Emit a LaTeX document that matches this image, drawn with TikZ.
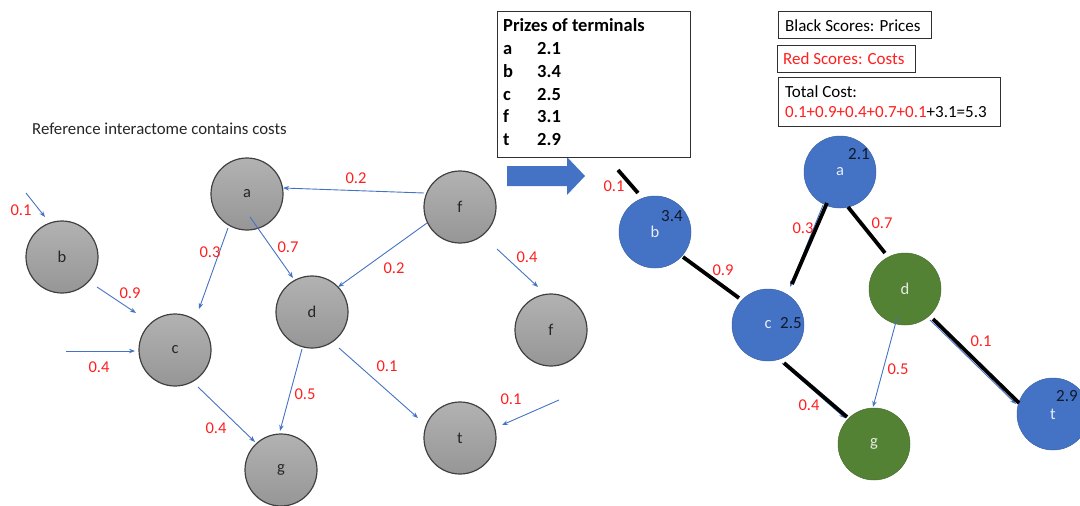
\documentclass[tikz,border=0pt]{standalone}
\usepackage{fontspec}
\setmainfont{Carlito}
\usetikzlibrary{arrows.meta}
\definecolor{gtop}{HTML}{B2B2B2}
\definecolor{gbot}{HTML}{969696}
\definecolor{edgeblue}{HTML}{4472C4}
\definecolor{costred}{HTML}{FF1F1F}
\definecolor{nodeblue}{HTML}{4472C4}
\definecolor{nodegreen}{HTML}{548235}
\definecolor{scoreink}{HTML}{101A2C}
\definecolor{boxline}{HTML}{303030}
\begin{document}
\begin{tikzpicture}[x=1pt,y=-1pt,
  graynode/.style={circle, minimum size=72pt, inner sep=0pt, draw=black!75, line width=1.2pt,
    top color=gtop, bottom color=gbot, font=\fontsize{16.5}{19}\selectfont, text=black!85},
  bluenode/.style={circle, minimum size=72pt, inner sep=0pt, fill=nodeblue, draw=nodeblue!85!black,
    line width=0.5pt, text=white!88!nodeblue, font=\fontsize{16.5}{19}\selectfont},
  greennode/.style={bluenode, fill=nodegreen, draw=nodegreen!85!black, text=white!85!nodegreen},
  cost/.style={text=costred, font=\fontsize{16.5}{19}\selectfont, inner sep=0pt},
  score/.style={text=scoreink, font=\fontsize{17}{19}\selectfont, inner sep=0pt},
  thinarrow/.style={draw=edgeblue, line width=0.9pt, -{Stealth[length=6pt,width=4.5pt]}},
  solution/.style={draw=black, line width=3.8pt},
  infobox/.style={draw=boxline, line width=1.1pt, anchor=north west, inner sep=0pt},
  boxtext/.style={anchor=base west, inner sep=0pt, font=\fontsize{17}{20}\selectfont},
  prizetext/.style={anchor=base west, inner sep=0pt, font=\fontsize{18.5}{22}\selectfont\bfseries}
]
\useasboundingbox (0,0) rectangle (1080,506);

% ---------------- left: reference interactome ----------------
\node[boxtext, font=\fontsize{16.8}{20}\selectfont, text=black!85] (title) at (32,134) {Reference interactome contains costs};

\node[graynode] (a) at (247,194) {a};
\node[graynode] (b) at (62,257) {b};
\node[graynode] (c) at (175,350) {c};
\node[graynode] (d) at (312,312) {d};
\node[graynode] (f) at (460,207) {f};
\node[graynode] (f2) at (551,330) {f};
\node[graynode] (g) at (281,470) {g};
\node[graynode] (t) at (460,438) {t};

\coordinate (inb) at (26,193);
\coordinate (inc) at (66,351);
\coordinate (int) at (559,400);

\draw[thinarrow] ([shift={(-36,-14)}]f.center) -- ([shift={(36,-6)}]a.center);
\draw[thinarrow] ([shift={(-33,16)}]f.center) -- ([shift={(26,-25)}]d.center);
\draw[thinarrow] ([shift={(3,23)}]a.center) -- ([shift={(-19,-34)}]d.center);
\draw[thinarrow] ([shift={(-19,34)}]a.center) -- ([shift={(24,-41)}]c.center);
\draw[thinarrow] (inb) -- ([shift={(-17,-40)}]b.center);
\draw[thinarrow] ([shift={(35,30)}]b.center) -- ([shift={(-39,-37)}]c.center);
\draw[thinarrow] (inc) -- ([shift={(-40,1)}]c.center);
\draw[thinarrow] ([shift={(23,37)}]c.center) -- ([shift={(-26,-28)}]g.center);
\draw[thinarrow] ([shift={(-10,37)}]d.center) -- ([shift={(-1,-39)}]g.center);
\draw[thinarrow] ([shift={(27,36)}]d.center) -- ([shift={(-42,-20)}]t.center);
\draw[thinarrow] (int) -- ([shift={(42,-13)}]t.center);
\draw[thinarrow] ([shift={(37,42)}]f.center) -- ([shift={(-13,-43)}]f2.center);

\node[cost] (lfa) at (356,178) {0.2};
\node[cost] (lad) at (288,247) {0.7};
\node[cost] (lac) at (210,252) {0.3};
\node[cost] (lb) at (21,210) {0.1};
\node[cost] (lbc) at (130,293) {0.9};
\node[cost] (lfd) at (394,268) {0.2};
\node[cost] (lff) at (527,257) {0.4};
\node[cost] (lc) at (99,367) {0.4};
\node[cost] (ldt) at (387,366) {0.1};
\node[cost] (ldg) at (305,394) {0.5};
\node[cost] (lcg) at (216,428) {0.4};
\node[cost] (lt) at (511,399) {0.1};

% ---------------- big arrow ----------------
\fill[nodeblue] (507,166) -- (567,166) -- (567,157) -- (585,176) -- (567,195) -- (567,186) -- (507,186) -- cycle;

% ---------------- prizes box ----------------
\node[infobox, minimum width=193pt, minimum height=146pt] (prizebox) at (497,11) {};
\node[prizetext] (ptitle) at (503,31) {Prizes of terminals};
\node[prizetext] (pa) at (503,54) {a};
\node[prizetext] (pav) at (537,54) {2.1};
\node[prizetext] (pb) at (503,77) {b};
\node[prizetext] (pbv) at (537,77) {3.4};
\node[prizetext] (pc) at (503,100) {c};
\node[prizetext] (pcv) at (537,100) {2.5};
\node[prizetext] (pf) at (503,122) {f};
\node[prizetext] (pfv) at (537,122) {3.1};
\node[prizetext] (pt) at (503,145) {t};
\node[prizetext] (ptv) at (537,145) {2.9};

% ---------------- legend boxes ----------------
\node[infobox, minimum width=153pt, minimum height=27pt] (blackbox) at (778,11) {};
\node[boxtext] (blacktext) at (785,31) {Black Scores: Prices};
\node[infobox, minimum width=138pt, minimum height=27pt] (redbox) at (777,45) {};
\node[boxtext, text=costred] (redtext) at (783,64) {Red Scores: Costs};
\node[infobox, minimum width=222pt, minimum height=49pt] (totalbox) at (778,77) {};
\node[boxtext] (totaltext1) at (785,97) {Total Cost:};
\node[boxtext] (totaltext2) at (785,117) {\textcolor{costred}{0.1+0.9+0.4+0.7+0.1}+3.1=5.3};

% ---------------- right: solution ----------------
\node[bluenode] (ra) at (840,172) {a};
\node[bluenode] (rb) at (655,232) {b};
\node[bluenode] (rc) at (768,325) {c};
\node[greennode] (rd) at (905,289) {d};
\node[greennode] (rg) at (874,444) {g};
\node[bluenode] (rt) at (1053,414) {t};

\coordinate (rinb) at (618,170);

% faint original arrows under the solution edges
\draw[thinarrow] ([shift={(-17,33)}]ra.center) -- ([shift={(22,-38)}]rc.center);
\draw[thinarrow] ([shift={(14,38)}]rc.center) -- ([shift={(-29,-26)}]rg.center);
\draw[thinarrow] ([shift={(25,31)}]rd.center) -- ([shift={(-37,-10)}]rt.center);
\draw[thinarrow] ([shift={(-8,29)}]rd.center) -- ([shift={(-1,-37)}]rg.center);

\draw[solution] (rinb) -- ([shift={(-17,-39)}]rb.center);
\draw[solution] ([shift={(28,25)}]rb.center) -- ([shift={(-29,-27)}]rc.center);
\draw[solution] ([shift={(-13,31)}]ra.center) -- ([shift={(24,-41)}]rc.center);
\draw[solution] ([shift={(8,35)}]ra.center) -- ([shift={(-20,-36)}]rd.center);
\draw[solution] ([shift={(28,30)}]rd.center) -- ([shift={(-34,-11)}]rt.center);
\draw[solution] ([shift={(16,38)}]rc.center) -- ([shift={(-27,-27)}]rg.center);

\node[score] (sa) at (859,154) {2.1};
\node[score] (sb) at (672,216) {3.4};
\node[score] (sc) at (791,323) {2.5};
\node[score] (st) at (1067,396) {2.9};

\node[cost] (rlb) at (614,186) {0.1};
\node[cost] (rlbc) at (723,270) {0.9};
\node[cost] (rlac) at (803,228) {0.3};
\node[cost] (rlad) at (882,223) {0.7};
\node[cost] (rldt) at (981,341) {0.1};
\node[cost] (rldg) at (898,369) {0.5};
\node[cost] (rlcg) at (809,405) {0.4};
\end{tikzpicture}
\end{document}
